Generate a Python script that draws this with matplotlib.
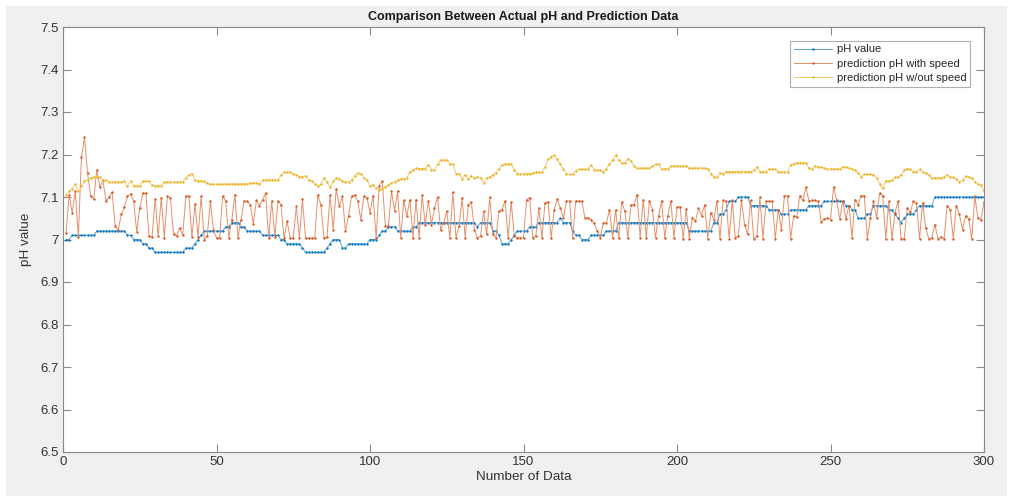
import numpy as np
import matplotlib
matplotlib.use("Agg")
import matplotlib.pyplot as plt
from matplotlib.patches import Rectangle
from matplotlib.colors import to_rgb

plt.rcParams['font.family'] = ['Liberation Sans', 'DejaVu Sans']

# Measured pH (0.01 resolution)
ph_value = [
    7.00, 7.00, 7.01, 7.01, 7.01, 7.01, 7.01, 7.01, 7.01, 7.01,
    7.02, 7.02, 7.02, 7.02, 7.02, 7.02, 7.02, 7.02, 7.02, 7.02,
    7.01, 7.01, 7.00, 7.00, 7.00, 6.99, 6.99, 6.98, 6.98, 6.97,
    6.97, 6.97, 6.97, 6.97, 6.97, 6.97, 6.97, 6.97, 6.97, 6.98,
    6.98, 6.98, 6.99, 7.00, 7.01, 7.02, 7.02, 7.02, 7.02, 7.02,
    7.02, 7.02, 7.03, 7.03, 7.04, 7.04, 7.04, 7.03, 7.03, 7.02,
    7.02, 7.02, 7.02, 7.02, 7.01, 7.01, 7.01, 7.01, 7.01, 7.01,
    7.00, 7.00, 6.99, 6.99, 6.99, 6.99, 6.99, 6.98, 6.97, 6.97,
    6.97, 6.97, 6.97, 6.97, 6.97, 6.98, 6.99, 7.00, 7.00, 7.00,
    6.98, 6.98, 6.99, 6.99, 6.99, 6.99, 6.99, 6.99, 6.99, 7.00,
    7.00, 7.00, 7.01, 7.02, 7.02, 7.03, 7.03, 7.03, 7.02, 7.02,
    7.02, 7.02, 7.02, 7.03, 7.03, 7.04, 7.04, 7.04, 7.04, 7.04,
    7.04, 7.04, 7.04, 7.04, 7.04, 7.04, 7.04, 7.04, 7.04, 7.04,
    7.04, 7.04, 7.04, 7.04, 7.03, 7.04, 7.04, 7.04, 7.04, 7.02,
    7.02, 7.01, 6.99, 6.99, 6.99, 7.00, 7.01, 7.02, 7.02, 7.02,
    7.02, 7.03, 7.03, 7.03, 7.04, 7.04, 7.04, 7.04, 7.04, 7.04,
    7.04, 7.05, 7.04, 7.04, 7.04, 7.02, 7.01, 7.01, 7.00, 7.00,
    7.00, 7.01, 7.01, 7.01, 7.01, 7.01, 7.02, 7.02, 7.02, 7.02,
    7.04, 7.04, 7.04, 7.04, 7.04, 7.04, 7.04, 7.04, 7.04, 7.04,
    7.04, 7.04, 7.04, 7.04, 7.04, 7.04, 7.04, 7.04, 7.04, 7.04,
    7.04, 7.04, 7.04, 7.02, 7.02, 7.02, 7.02, 7.02, 7.02, 7.02,
    7.02, 7.04, 7.04, 7.06, 7.06, 7.07, 7.09, 7.09, 7.09, 7.10,
    7.10, 7.10, 7.10, 7.08, 7.08, 7.08, 7.08, 7.08, 7.08, 7.07,
    7.07, 7.07, 7.07, 7.06, 7.06, 7.06, 7.07, 7.07, 7.07, 7.07,
    7.07, 7.07, 7.08, 7.08, 7.08, 7.08, 7.08, 7.09, 7.09, 7.09,
    7.09, 7.09, 7.09, 7.09, 7.08, 7.08, 7.07, 7.07, 7.05, 7.05,
    7.05, 7.06, 7.06, 7.08, 7.08, 7.08, 7.08, 7.08, 7.07, 7.07,
    7.06, 7.05, 7.04, 7.05, 7.06, 7.06, 7.06, 7.07, 7.08, 7.08,
    7.08, 7.08, 7.08, 7.10, 7.10, 7.10, 7.10, 7.10, 7.10, 7.10,
    7.10, 7.10, 7.10, 7.10, 7.10, 7.10, 7.10, 7.10, 7.10, 7.10,
]

# Model prediction including vehicle speed as an input
pred_with_speed = [
    7.016, 7.105, 7.063, 7.113, 7.006, 7.193, 7.241, 7.156, 7.102, 7.095,
    7.163, 7.123, 7.139, 7.091, 7.099, 7.111, 7.031, 7.023, 7.059, 7.076,
    7.102, 7.107, 7.091, 7.018, 7.074, 7.109, 7.109, 7.008, 7.006, 7.096,
    7.008, 7.098, 7.004, 7.102, 7.098, 7.012, 7.008, 7.027, 7.010, 7.102,
    7.102, 7.006, 7.084, 7.006, 7.102, 7.000, 7.008, 7.091, 7.023, 7.003,
    7.004, 7.102, 7.091, 7.004, 7.047, 7.105, 7.004, 7.047, 7.091, 7.090,
    7.082, 7.037, 7.092, 7.080, 7.094, 7.109, 7.003, 7.091, 7.007, 7.091,
    7.082, 7.003, 7.043, 7.003, 7.003, 7.078, 7.003, 7.095, 7.003, 7.003,
    7.003, 7.003, 7.105, 7.082, 7.004, 7.006, 7.105, 7.023, 7.119, 7.078,
    7.102, 7.020, 7.055, 7.102, 7.105, 7.090, 7.047, 7.102, 7.098, 7.063,
    7.103, 7.004, 7.127, 7.137, 7.031, 7.031, 7.113, 7.068, 7.113, 7.004,
    7.092, 7.055, 7.094, 7.004, 7.094, 7.004, 7.104, 7.035, 7.091, 7.035,
    7.074, 7.100, 7.023, 7.039, 7.066, 7.004, 7.111, 7.004, 7.031, 7.098,
    7.004, 7.082, 7.088, 7.023, 7.004, 7.008, 7.066, 7.012, 7.099, 7.012,
    7.004, 7.066, 7.070, 7.091, 7.004, 7.088, 7.008, 7.004, 7.004, 7.004,
    7.094, 7.098, 7.004, 7.008, 7.074, 7.004, 7.086, 7.089, 7.004, 7.070,
    7.095, 7.074, 7.051, 7.090, 7.091, 7.004, 7.091, 7.090, 7.090, 7.051,
    7.051, 7.047, 7.039, 7.020, 7.004, 7.039, 7.039, 7.070, 7.004, 7.070,
    7.004, 7.088, 7.066, 7.004, 7.082, 7.082, 7.105, 7.004, 7.094, 7.004,
    7.091, 7.070, 7.004, 7.056, 7.091, 7.004, 7.056, 7.091, 7.004, 7.076,
    7.077, 7.002, 7.072, 7.002, 7.051, 7.043, 7.074, 7.056, 7.082, 7.002,
    7.063, 7.047, 7.090, 7.002, 7.092, 7.090, 7.002, 7.092, 7.004, 7.008,
    7.092, 7.035, 7.012, 7.092, 7.002, 7.008, 7.099, 7.002, 7.090, 7.090,
    7.090, 7.002, 7.070, 7.023, 7.103, 7.103, 7.002, 7.056, 7.053, 7.103,
    7.092, 7.123, 7.090, 7.092, 7.092, 7.090, 7.041, 7.048, 7.051, 7.047,
    7.123, 7.094, 7.048, 7.090, 7.048, 7.080, 7.004, 7.094, 7.082, 7.103,
    7.103, 7.002, 7.051, 7.090, 7.051, 7.109, 7.103, 7.002, 7.090, 7.002,
    7.063, 7.090, 7.002, 7.002, 7.074, 7.064, 7.090, 7.086, 7.002, 7.086,
    7.027, 7.002, 7.004, 7.035, 7.002, 7.006, 7.002, 7.080, 7.070, 7.002,
    7.080, 7.059, 7.023, 7.056, 7.048, 7.002, 7.102, 7.051, 7.047, 7.088,
]

# Model prediction without the speed input
pred_without_speed = [
    7.105, 7.113, 7.120, 7.130, 7.113, 7.125, 7.137, 7.140, 7.145, 7.147,
    7.147, 7.147, 7.137, 7.140, 7.135, 7.135, 7.135, 7.135, 7.135, 7.137,
    7.125, 7.137, 7.127, 7.127, 7.127, 7.137, 7.137, 7.137, 7.128, 7.127,
    7.127, 7.127, 7.135, 7.135, 7.135, 7.135, 7.135, 7.135, 7.135, 7.145,
    7.152, 7.155, 7.140, 7.138, 7.138, 7.137, 7.132, 7.130, 7.130, 7.130,
    7.130, 7.130, 7.131, 7.130, 7.131, 7.131, 7.130, 7.131, 7.131, 7.131,
    7.133, 7.133, 7.134, 7.131, 7.140, 7.140, 7.140, 7.140, 7.140, 7.140,
    7.152, 7.158, 7.158, 7.158, 7.155, 7.152, 7.148, 7.148, 7.150, 7.140,
    7.138, 7.130, 7.127, 7.130, 7.145, 7.135, 7.123, 7.137, 7.145, 7.143,
    7.137, 7.135, 7.135, 7.140, 7.150, 7.156, 7.155, 7.145, 7.140, 7.125,
    7.129, 7.121, 7.117, 7.120, 7.124, 7.128, 7.133, 7.136, 7.140, 7.143,
    7.143, 7.145, 7.160, 7.164, 7.168, 7.167, 7.167, 7.167, 7.176, 7.164,
    7.163, 7.177, 7.187, 7.187, 7.187, 7.177, 7.177, 7.155, 7.155, 7.143,
    7.152, 7.143, 7.150, 7.145, 7.147, 7.145, 7.134, 7.145, 7.147, 7.152,
    7.157, 7.166, 7.176, 7.178, 7.178, 7.178, 7.164, 7.155, 7.154, 7.155,
    7.155, 7.155, 7.156, 7.158, 7.158, 7.158, 7.170, 7.189, 7.195, 7.198,
    7.189, 7.177, 7.166, 7.155, 7.153, 7.153, 7.162, 7.165, 7.165, 7.165,
    7.165, 7.176, 7.164, 7.164, 7.164, 7.158, 7.167, 7.177, 7.187, 7.198,
    7.188, 7.180, 7.180, 7.190, 7.185, 7.172, 7.168, 7.168, 7.168, 7.168,
    7.168, 7.172, 7.177, 7.177, 7.165, 7.167, 7.167, 7.173, 7.173, 7.173,
    7.173, 7.173, 7.173, 7.168, 7.168, 7.168, 7.168, 7.168, 7.168, 7.166,
    7.155, 7.146, 7.147, 7.157, 7.155, 7.160, 7.160, 7.160, 7.160, 7.160,
    7.160, 7.160, 7.160, 7.160, 7.163, 7.170, 7.160, 7.160, 7.160, 7.166,
    7.166, 7.165, 7.160, 7.158, 7.158, 7.158, 7.176, 7.178, 7.181, 7.181,
    7.181, 7.181, 7.168, 7.165, 7.174, 7.170, 7.170, 7.168, 7.166, 7.166,
    7.166, 7.166, 7.166, 7.171, 7.171, 7.168, 7.166, 7.163, 7.157, 7.148,
    7.153, 7.153, 7.153, 7.152, 7.145, 7.130, 7.121, 7.138, 7.138, 7.140,
    7.147, 7.147, 7.152, 7.163, 7.167, 7.165, 7.160, 7.160, 7.165, 7.158,
    7.156, 7.152, 7.145, 7.145, 7.145, 7.145, 7.148, 7.151, 7.148, 7.146,
    7.142, 7.135, 7.140, 7.149, 7.148, 7.144, 7.136, 7.131, 7.128, 7.113,
]

series_labels = ["pH value", "prediction pH with speed", "prediction pH w/out speed"]
x_ticks = [0, 50, 100, 150, 200, 250, 300]
y_ticks = [6.5, 6.6, 6.7, 6.8, 6.9, 7.0, 7.1, 7.2, 7.3, 7.4, 7.5]
y_ticklabels = ["6.5", "6.6", "6.7", "6.8", "6.9", "7", "7.1", "7.2", "7.3", "7.4", "7.5"]

colors = ["#0072BD", "#D95319", "#EDB120"]
n_points = np.arange(1, len(ph_value) + 1)


def tint(c, amount):
    r, g, b = to_rgb(c)
    return (r + (1 - r) * amount, g + (1 - g) * amount, b + (1 - b) * amount)


W, H = 1011, 497
fig = plt.figure(figsize=(W / 100, H / 100), dpi=100, facecolor="white")
# grey figure panel behind the axes
panel = Rectangle((6 / W, 1 / H), (W - 10) / W, (H - 7) / H,
                  transform=fig.transFigure, facecolor="#f0f0f0",
                  edgecolor="none", zorder=-10)
fig.add_artist(panel)

ax = fig.add_axes([63 / W, (H - 452) / H, (984 - 63) / W, (452 - 27) / H])
ax.set_facecolor("white")
ax.set_zorder(1)

for vals, col, lab in zip([ph_value, pred_with_speed, pred_without_speed], colors, series_labels):
    ax.plot(n_points, vals, color=tint(col, 0.35), lw=0.7, marker=".",
            markersize=3.4, markeredgewidth=0, markerfacecolor=col, label=lab)

ax.set_xlim(0, 300)
ax.set_ylim(6.5, 7.5)
ax.set_xticks(x_ticks)
ax.set_yticks(y_ticks)
ax.set_yticklabels(y_ticklabels)

spine_col = "#8a8a8a"
for s in ax.spines.values():
    s.set_color(spine_col)
    s.set_linewidth(0.8)
ax.tick_params(direction="in", length=6, width=0.8, color=spine_col,
               labelcolor="#333333", labelsize=9.5, top=True, right=True, pad=3)

ax.set_title("Comparison Between Actual pH and Prediction Data", fontsize=9,
             fontweight="bold", color="#1a1a1a", pad=5)
ax.set_xlabel("Number of Data", fontsize=9.7, color="#333333", labelpad=2)
ax.set_ylabel("pH value", fontsize=9.7, color="#333333", labelpad=6)

leg = ax.legend(loc="upper right", bbox_to_anchor=(0.9885, 0.976), fontsize=8,
                frameon=True, fancybox=False, edgecolor="#9a9a9a",
                handlelength=3.4, handletextpad=0.45, borderpad=0.35,
                labelspacing=0.38, borderaxespad=0.3)
leg.get_frame().set_linewidth(0.8)
for t in leg.get_texts():
    t.set_color("#262626")

fig.savefig("out.png", dpi=100, facecolor=fig.get_facecolor())
